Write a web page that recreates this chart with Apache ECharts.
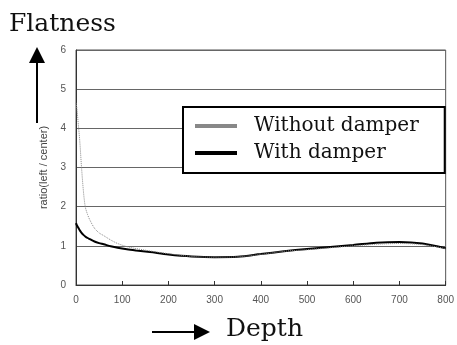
<!DOCTYPE html>
<html>
<head>
<meta charset="utf-8">
<script src="https://cdn.jsdelivr.net/npm/echarts@6/dist/echarts.min.js"></script>
<style>
  html, body { margin: 0; padding: 0; background: #fff; }
  #chart-container { width: 457px; height: 345px; }
</style>
</head>
<body>
<div id="chart-container"></div>
<script>
var dom = document.getElementById("chart-container");
var myChart = echarts.init(dom, null, { renderer: "canvas" });

const depth = [0, 2, 5, 8, 12, 16, 20, 25, 30, 40, 50, 60, 75, 90, 110, 130, 160, 200, 250, 300, 350, 400, 450, 500, 550, 600, 650, 700, 750, 800];
const withoutDamper = [4.65, 4.5, 4.1, 3.7, 3.0, 2.4, 2.0, 1.8, 1.66, 1.45, 1.33, 1.26, 1.15, 1.06, 0.98, 0.93, 0.87, 0.8, 0.73, 0.71, 0.72, 0.78, 0.86, 0.9, 0.95, 1.0, 1.04, 1.06, 1.03, 0.93];
const withDamper = [1.58, 1.52, 1.46, 1.4, 1.33, 1.28, 1.24, 1.2, 1.17, 1.11, 1.07, 1.04, 0.99, 0.95, 0.91, 0.88, 0.84, 0.78, 0.73, 0.71, 0.72, 0.79, 0.86, 0.92, 0.97, 1.02, 1.08, 1.1, 1.06, 0.94];
const seriesNames = ["Without damper", "With damper"];

const pairs = (ys) => depth.map((x, i) => [x, ys[i]]);

var option = {
  animation: false,
  title: {
    text: "Flatness",
    left: 4,
    top: 7,
    textStyle: { fontFamily: "DejaVu Serif", fontSize: 25, fontWeight: "normal", color: "#111" },
  },
  legend: {
    orient: "vertical",
    left: 183,
    top: 107,
    padding: [9, 26, 10, 12],
    itemGap: 7,
    itemWidth: 42,
    itemHeight: 4,
    icon: "rect",
    backgroundColor: "#fff",
    borderColor: "#000",
    borderWidth: 2,
    borderRadius: 0,
    textStyle: { fontFamily: "DejaVu Serif", fontSize: 20, color: "#111", padding: [0, 0, 0, 12] },
    data: [
      { name: seriesNames[0], itemStyle: { color: "#888" } },
      { name: seriesNames[1], itemStyle: { color: "#000" } },
    ],
  },
  grid: {
    left: 76,
    right: 6,
    top: 50,
    bottom: 60,
    show: true,
    borderColor: "#555",
    borderWidth: 1,
  },
  xAxis: {
    type: "value",
    min: 0,
    max: 800,
    interval: 100,
    axisLine: { lineStyle: { color: "#333" } },
    axisTick: { inside: true, length: 4, lineStyle: { color: "#333" } },
    splitLine: { show: false },
    axisLabel: { fontFamily: "Liberation Sans", fontSize: 10, color: "#555", margin: 10 },
  },
  yAxis: {
    type: "value",
    min: 0,
    max: 6,
    interval: 1,
    name: "ratio(left / center)",
    nameLocation: "middle",
    nameGap: 16,
    nameTextStyle: { fontFamily: "Liberation Sans", fontSize: 11, color: "#444" },
    axisLine: { show: true, lineStyle: { color: "#333" } },
    axisTick: { show: false },
    splitLine: { lineStyle: { color: "#666", width: 1 } },
    axisLabel: { fontFamily: "Liberation Sans", fontSize: 10, color: "#555", margin: 10 },
  },
  graphic: [
    // vertical arrow
    { type: "line", shape: { x1: 37, y1: 123, x2: 37, y2: 60 }, style: { stroke: "#000", lineWidth: 2 } },
    { type: "polygon", shape: { points: [[29, 63], [45, 63], [37, 47]] }, style: { fill: "#000" } },
    // horizontal arrow
    { type: "line", shape: { x1: 152, y1: 332, x2: 196, y2: 332 }, style: { stroke: "#000", lineWidth: 2 } },
    { type: "polygon", shape: { points: [[194, 324], [194, 340], [210, 332]] }, style: { fill: "#000" } },
    {
      type: "text",
      left: 226,
      top: 317,
      style: { text: "Depth", fontFamily: "DejaVu Serif", fontSize: 25, fill: "#111" },
    },
  ],
  series: [
    {
      name: seriesNames[0],
      type: "line",
      smooth: 0.3,
      showSymbol: false,
      data: pairs(withoutDamper),
      lineStyle: { color: "#888", width: 1, type: "dotted" },
      itemStyle: { color: "#888" },
      z: 3,
    },
    {
      name: seriesNames[1],
      type: "line",
      smooth: 0.3,
      showSymbol: false,
      data: pairs(withDamper),
      lineStyle: { color: "#000", width: 2 },
      itemStyle: { color: "#000" },
      z: 2,
    },
  ],
};

myChart.setOption(option);
window.addEventListener("resize", myChart.resize);
</script>
</body>
</html>
